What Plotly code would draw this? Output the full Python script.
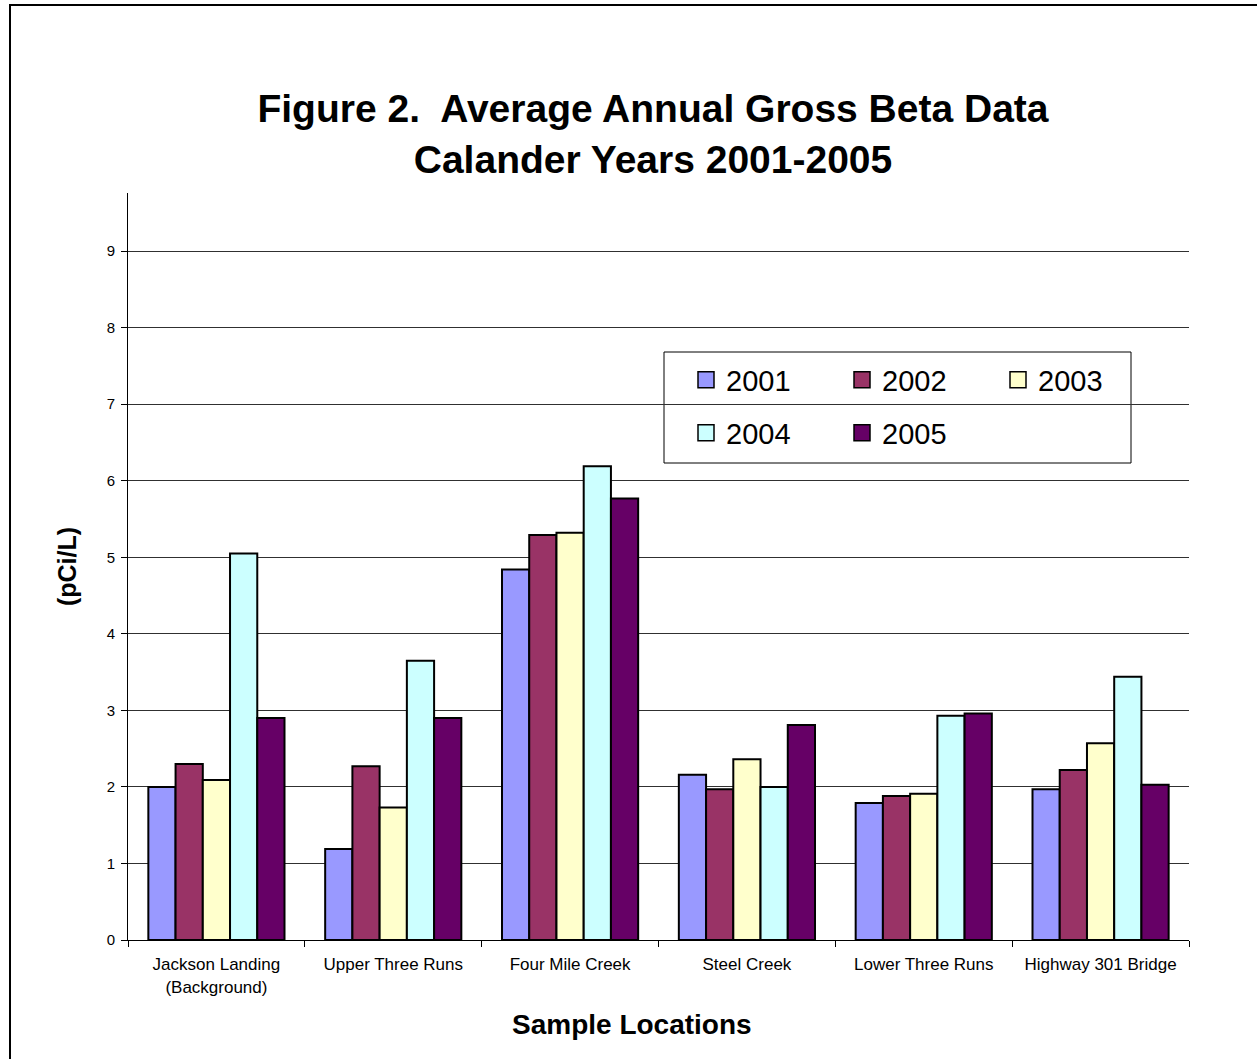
import plotly.graph_objects as go

# Sampling locations along the river and the yearly averages (pCi/L)
locations = [
    "Jackson Landing<br>(Background)",
    "Upper Three Runs",
    "Four Mile Creek",
    "Steel Creek",
    "Lower Three Runs",
    "Highway 301 Bridge",
]
years = ["2001", "2002", "2003", "2004", "2005"]

beta_2001 = [2.00, 1.19, 4.84, 2.16, 1.79, 1.97]
beta_2002 = [2.30, 2.27, 5.29, 1.97, 1.88, 2.22]
beta_2003 = [2.09, 1.73, 5.32, 2.36, 1.91, 2.57]
beta_2004 = [5.05, 3.65, 6.19, 2.00, 2.93, 3.44]
beta_2005 = [2.90, 2.90, 5.77, 2.81, 2.96, 2.03]

series = [beta_2001, beta_2002, beta_2003, beta_2004, beta_2005]
colors = ["#9999FF", "#993366", "#FFFFCC", "#CCFFFF", "#660066"]
y_ticks = [0, 1, 2, 3, 4, 5, 6, 7, 8, 9]

FONT = "Liberation Sans, Arial, sans-serif"
W, H = 1257, 1059
L, R, T, B = 128, 68, 193, 119
PW, PH = W - L - R, H - T - B


def px_x(px):
    return (px - L) / PW


def px_y(py):
    return (H - B - py) / PH


fig = go.Figure()

for yr, vals, col in zip(years, series, colors):
    fig.add_trace(go.Bar(
        x=locations, y=vals, name=yr,
        marker=dict(color=col, line=dict(color="black", width=2)),
        showlegend=False,
    ))

# legend keys: first row 2001-2003, second row 2004-2005
for i, (yr, col) in enumerate(zip(years, colors)):
    fig.add_trace(go.Scatter(
        x=[None], y=[None], mode="markers", name=yr,
        marker=dict(symbol="square", size=16, color=col,
                    line=dict(color="black", width=1.5)),
        legend="legend" if i < 3 else "legend2",
    ))

legend_common = dict(
    orientation="h",
    font=dict(family=FONT, size=29, color="black"),
    bgcolor="rgba(0,0,0,0)",
    borderwidth=0,
    itemsizing="trace",
    entrywidth=111,
    entrywidthmode="pixels",
    xanchor="left",
    yanchor="middle",
    traceorder="normal",
)

fig.update_layout(
    width=W, height=H,
    margin=dict(l=L, r=R, t=T, b=B),
    paper_bgcolor="white",
    plot_bgcolor="white",
    barmode="group",
    bargap=0.23,
    bargroupgap=0,
    font=dict(family=FONT, color="black"),
    title=dict(
        text="<b>Figure 2.  Average Annual Gross Beta Data<br>Calander Years 2001-2005</b>",
        font=dict(family=FONT, size=39, color="black"),
        x=653 / W, xanchor="center",
        y=1 - 122 / H, yanchor="top",
        yref="container",
    ),
    legend=dict(legend_common, x=px_x(686), y=px_y(380)),
    legend2=dict(legend_common, x=px_x(686), y=px_y(433)),
    xaxis=dict(
        showline=True, linecolor="black", linewidth=1,
        ticks="outside", tickson="boundaries", ticklen=6, tickcolor="black",
        tickfont=dict(family=FONT, size=17, color="black"),
        ticklabelstandoff=9,
        showgrid=False,
    ),
    yaxis=dict(
        range=[0, 9.76],
        tickvals=y_ticks,
        showline=True, linecolor="black", linewidth=1,
        ticks="outside", ticklen=6, tickcolor="black",
        tickfont=dict(family=FONT, size=15, color="black"),
        ticklabelstandoff=3,
        showgrid=True, gridcolor="#303030", gridwidth=1,
        zeroline=False,
        title=dict(text="<b>(pCi/L)</b>",
                   font=dict(family=FONT, size=25, color="black"),
                   standoff=22),
    ),
    shapes=[
        # legend frame
        dict(type="rect", xref="paper", yref="paper",
             x0=px_x(664), x1=px_x(1131), y0=px_y(463), y1=px_y(352),
             line=dict(color="black", width=1), fillcolor="white", layer="below"),
        # outer chart border
        dict(type="rect", xref="paper", yref="paper",
             x0=px_x(10), x1=px_x(1300), y0=px_y(1100), y1=px_y(5),
             line=dict(color="black", width=2), fillcolor="rgba(0,0,0,0)"),
    ],
    annotations=[
        dict(text="<b>Sample Locations</b>", xref="paper", yref="paper",
             x=px_x(632), y=px_y(1024), xanchor="center", yanchor="middle",
             showarrow=False, font=dict(family=FONT, size=28, color="black")),
    ],
)

fig.write_html("out.html")
